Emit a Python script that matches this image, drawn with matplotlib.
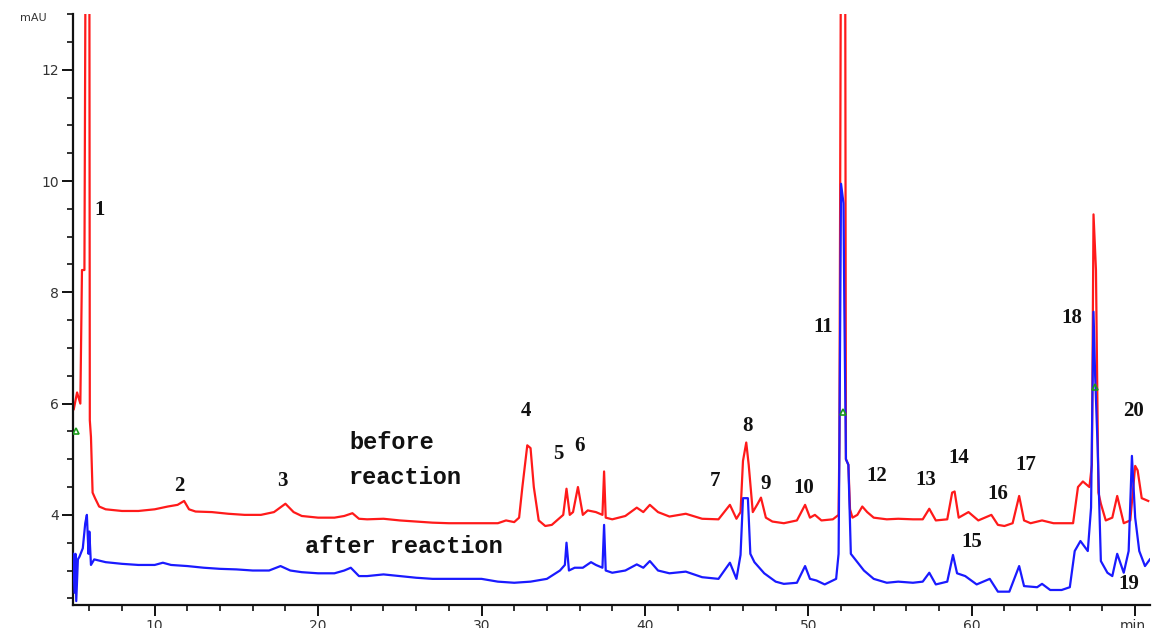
import matplotlib
matplotlib.use("Agg")
import matplotlib.pyplot as plt
from matplotlib.ticker import MultipleLocator, FixedLocator

# retention time (min) / absorbance (mAU)
red_time = [5.05, 5.25, 5.45, 5.55, 5.7, 5.78, 6.0, 6.03, 6.1, 6.2,
            6.35, 6.6, 7.0, 8.0, 9.0, 10.0, 10.8, 11.4, 11.8, 12.1,
            12.5, 13.5, 14.5, 15.5, 16.5, 17.3, 18.0, 18.5, 19.0, 20.0,
            21.0, 21.6, 22.1, 22.5, 23.0, 24.0, 25.0, 26.0, 27.0, 28.0,
            29.0, 30.0, 31.0, 31.5, 32.0, 32.3, 32.5, 32.8, 33.0, 33.2,
            33.5, 33.9, 34.3, 34.8, 35.0, 35.2, 35.4, 35.6, 35.9, 36.2,
            36.5, 37.0, 37.4, 37.5, 37.6, 38.0, 38.8, 39.5, 39.9, 40.3,
            40.8, 41.5, 42.5, 43.5, 44.5, 45.2, 45.6, 45.85, 46.0, 46.2,
            46.35, 46.6, 46.9, 47.1, 47.4, 47.8, 48.5, 49.3, 49.8, 50.1,
            50.4, 50.8, 51.5, 51.85, 51.9, 52.0, 52.25, 52.3, 52.45, 52.55,
            52.7, 53.0, 53.3, 53.6, 54.0, 54.8, 55.5, 56.4, 57.0, 57.4,
            57.8, 58.5, 58.8, 58.95, 59.2, 59.8, 60.4, 61.2, 61.6, 62.0,
            62.5, 62.9, 63.2, 63.6, 64.3, 65.0, 66.2, 66.5, 66.8, 67.2,
            67.35, 67.45, 67.6, 67.75, 67.9, 68.2, 68.6, 68.9, 69.3, 69.7,
            70.0, 70.15, 70.4, 70.8]
red_mau = [5.9, 6.2, 6.0, 8.4, 8.4, 15.0, 15.0, 5.7, 5.4, 4.4,
           4.3, 4.15, 4.1, 4.07, 4.07, 4.1, 4.15, 4.18, 4.25, 4.1,
           4.06, 4.05, 4.02, 4.0, 4.0, 4.05, 4.2, 4.05, 3.98, 3.95,
           3.95, 3.98, 4.03, 3.93, 3.92, 3.93, 3.9, 3.88, 3.86, 3.85,
           3.85, 3.85, 3.85, 3.9, 3.87, 3.95, 4.5, 5.25, 5.2, 4.5,
           3.9, 3.8, 3.82, 3.95, 4.0, 4.47, 4.0, 4.05, 4.5, 4.0,
           4.08, 4.05, 4.0, 4.78, 3.95, 3.92, 3.98, 4.13, 4.05, 4.18,
           4.05, 3.97, 4.02, 3.93, 3.92, 4.18, 3.93, 4.05, 4.97, 5.3,
           4.9, 4.05, 4.2, 4.31, 3.95, 3.88, 3.85, 3.9, 4.18, 3.95,
           4.0, 3.9, 3.92, 4.0, 5.3, 15.0, 15.0, 5.0, 4.9, 4.1,
           3.95, 4.0, 4.15, 4.05, 3.95, 3.92, 3.93, 3.92, 3.92, 4.11,
           3.9, 3.92, 4.4, 4.42, 3.95, 4.05, 3.9, 4.0, 3.82, 3.8,
           3.85, 4.34, 3.9, 3.85, 3.9, 3.85, 3.85, 4.5, 4.6, 4.5,
           4.9, 9.4, 8.4, 4.4, 4.2, 3.9, 3.95, 4.34, 3.85, 3.9,
           4.88, 4.8, 4.3, 4.25]

blue_time = [5.0, 5.1, 5.15, 5.2, 5.3, 5.4, 5.6, 5.75, 5.85, 5.95,
             6.0, 6.1, 6.3, 7.0, 8.0, 9.0, 10.0, 10.5, 11.0, 12.0,
             13.0, 14.0, 15.0, 16.0, 17.0, 17.7, 18.3, 19.0, 20.0, 21.0,
             21.6, 22.0, 22.5, 23.0, 24.0, 25.0, 26.0, 27.0, 28.0, 29.0,
             30.0, 31.0, 32.0, 33.0, 34.0, 34.8, 35.1, 35.2, 35.35, 35.7,
             36.2, 36.7, 37.0, 37.4, 37.5, 37.6, 38.0, 38.8, 39.5, 39.9,
             40.3, 40.8, 41.5, 42.5, 43.5, 44.5, 45.2, 45.6, 45.85, 46.0,
             46.3, 46.45, 46.7, 47.3, 48.0, 48.5, 49.3, 49.8, 50.1, 50.5,
             51.0, 51.7, 51.85, 51.9, 52.0, 52.15, 52.2, 52.3, 52.45, 52.6,
             53.0, 53.4, 54.0, 54.8, 55.5, 56.4, 57.0, 57.4, 57.8, 58.5,
             58.85, 59.1, 59.6, 60.3, 61.1, 61.6, 62.3, 62.9, 63.2, 64.0,
             64.3, 64.8, 65.5, 66.0, 66.3, 66.65, 67.1, 67.3, 67.45, 67.55,
             67.7, 67.9, 68.3, 68.6, 68.9, 69.3, 69.6, 69.8, 70.0, 70.25,
             70.6, 70.9]
blue_mau = [3.3, 2.6, 3.3, 2.45, 3.2, 3.25, 3.4, 3.85, 4.0, 3.3,
            3.7, 3.1, 3.2, 3.15, 3.12, 3.1, 3.1, 3.14, 3.1, 3.08,
            3.05, 3.03, 3.02, 3.0, 3.0, 3.08, 3.0, 2.97, 2.95, 2.95,
            3.0, 3.05, 2.9, 2.9, 2.93, 2.9, 2.87, 2.85, 2.85, 2.85,
            2.85, 2.8, 2.78, 2.8, 2.85, 3.0, 3.1, 3.5, 3.0, 3.05,
            3.05, 3.15, 3.1, 3.05, 3.82, 3.0, 2.96, 3.0, 3.11, 3.05,
            3.17, 3.0, 2.95, 2.98, 2.88, 2.85, 3.14, 2.85, 3.28, 4.3,
            4.3, 3.3, 3.15, 2.95, 2.8, 2.76, 2.78, 3.08, 2.85, 2.82,
            2.75, 2.85, 3.3, 5.2, 9.95, 9.6, 7.8, 5.0, 4.9, 3.3,
            3.15, 3.0, 2.85, 2.78, 2.8, 2.78, 2.8, 2.96, 2.75, 2.8,
            3.28, 2.95, 2.9, 2.75, 2.85, 2.62, 2.62, 3.08, 2.72, 2.7,
            2.76, 2.65, 2.65, 2.7, 3.35, 3.53, 3.35, 4.13, 7.65, 6.5,
            5.24, 3.17, 2.96, 2.9, 3.3, 2.96, 3.35, 5.06, 3.95, 3.35,
            3.08, 3.2]

# integration marks (green)
mark_time = [5.2, 52.15, 67.55]
mark_mau = [5.5, 5.85, 6.3]

# peak numbers and where they sit
peak_labels = ["1", "2", "3", "4", "5", "6", "7", "8", "9", "10",
               "11", "12", "13", "14", "15", "16", "17", "18", "19", "20"]
peak_x = [6.6, 11.5, 17.8, 32.7, 34.7, 36.0, 44.3, 46.3, 47.4, 49.7,
          50.9, 54.2, 57.2, 59.2, 60.0, 61.6, 63.3, 66.1, 69.6, 69.9]
peak_y = [9.48, 4.52, 4.6, 5.86, 5.1, 5.24, 4.6, 5.6, 4.56, 4.49,
          7.37, 4.7, 4.63, 5.03, 3.51, 4.38, 4.9, 7.53, 2.76, 5.87]

x_ticks = [10, 20, 30, 40, 50, 60, 70]
x_ticklabels = ["10", "20", "30", "40", "50", "60", "min."]
y_ticks = [4, 6, 8, 10, 12]

fig = plt.figure(figsize=(11.53, 6.28), dpi=100)
ax = fig.add_axes([0.0633, 0.0366, 0.934, 0.941])

ax.plot(red_time, red_mau, color="#ff1a1a", lw=1.6, zorder=2)
ax.plot(blue_time, blue_mau, color="#1a1aff", lw=1.6, zorder=3)
ax.plot(mark_time, mark_mau, ls="none", marker="^", ms=5, mfc="none",
        mec="#1a9a1a", mew=1.2, zorder=4)

for lab, px, py in zip(peak_labels, peak_x, peak_y):
    ax.text(px, py, lab, ha="center", va="center", fontsize=15,
            fontweight="bold", family="Liberation Serif", color="#111111")

ax.text(21.9, 5.3, "before", ha="left", va="center", fontsize=17,
        fontweight="bold", family="Liberation Mono", color="#111111")
ax.text(21.9, 4.67, "reaction", ha="left", va="center", fontsize=17,
        fontweight="bold", family="Liberation Mono", color="#111111")
ax.text(19.2, 3.44, "after reaction", ha="left", va="center", fontsize=17,
        fontweight="bold", family="Liberation Mono", color="#111111")

ax.set_xlim(5.0, 70.9)
ax.set_ylim(2.38, 13.0)

ax.xaxis.set_major_locator(FixedLocator(x_ticks))
ax.set_xticklabels(x_ticklabels)
ax.xaxis.set_minor_locator(MultipleLocator(2))
ax.yaxis.set_major_locator(FixedLocator(y_ticks))
ax.yaxis.set_minor_locator(MultipleLocator(0.5))

for side in ["top", "right"]:
    ax.spines[side].set_visible(False)
for side in ["left", "bottom"]:
    ax.spines[side].set_linewidth(1.6)
    ax.spines[side].set_color("#111111")

ax.tick_params(which="major", length=8, width=1.4, color="#111111",
               labelsize=10, labelcolor="#333333", pad=2)
ax.tick_params(which="minor", length=4, width=1.2, color="#111111")

fig.text(20 / 1153, 1 - 18 / 628, "mAU", fontsize=8, color="#333333",
         ha="left", va="center")

fig.savefig("out.png", dpi=100)
